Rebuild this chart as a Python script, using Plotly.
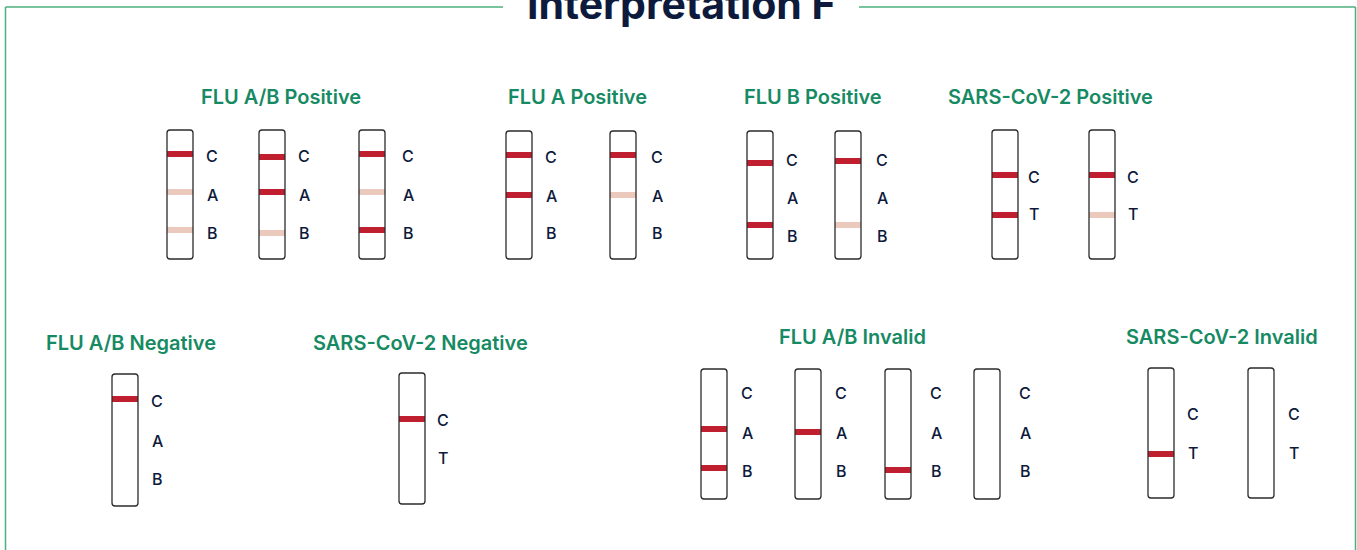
import plotly.graph_objects as go

# ---------------- data ----------------
main_title = "Interpretation F"
group_titles = [
    "FLU A/B Positive", "FLU A Positive", "FLU B Positive", "SARS-CoV-2 Positive",
    "FLU A/B Negative", "SARS-CoV-2 Negative", "FLU A/B Invalid", "SARS-CoV-2 Invalid",
]
flu_lines = ["C", "A", "B"]
sars_lines = ["C", "T"]
group_lines = [flu_lines, flu_lines, flu_lines, sars_lines,
               flu_lines, sars_lines, flu_lines, sars_lines]

# band state of each strip, one entry per test line (S = strong, F = faint, None = absent)
S, F = "strong", "faint"
flu_ab_positive = [[S, F, F], [S, S, F], [S, F, S]]
flu_a_positive = [[S, S, None], [S, F, None]]
flu_b_positive = [[S, None, S], [S, None, F]]
sars_positive = [[S, S], [S, F]]
flu_ab_negative = [[S, None, None]]
sars_negative = [[S, None]]
flu_ab_invalid = [[None, S, S], [None, S, None], [None, None, S], [None, None, None]]
sars_invalid = [[None, S], [None, None]]
group_results = [flu_ab_positive, flu_a_positive, flu_b_positive, sars_positive,
                 flu_ab_negative, sars_negative, flu_ab_invalid, sars_invalid]

# ---------------- layout (positions in page pixels) ----------------
W, H = 1357, 550
STRIP_W = 26
BAND_H = 6
RADIUS = 3
title_pos = [(281, 97), (577, 97), (813, 97), (1050, 97),
             (131, 343), (420, 343), (852, 337), (1222, 337)]
strip_left = [[167, 259, 359], [506, 610], [747, 835], [992, 1089],
              [112], [399], [701, 795, 885, 974], [1148, 1248]]
strip_span = [(130, 259), (131, 259), (131, 259), (130, 259),
              (374, 506), (373, 504), (369, 499), (368, 498)]
band_y = [
    [[154, 192, 230], [157, 192, 233], [154, 192, 230]],
    [[155, 195, 232], [155, 195, 232]],
    [[163, 198, 225], [161, 198, 225]],
    [[175, 215], [175, 215]],
    [[399, 441, 479]],
    [[419, 458]],
    [[390, 429, 468], [390, 432, 470], [390, 432, 470], [390, 432, 470]],
    [[414, 454], [414, 454]],
]
label_x = [[212, 304, 408], [551, 657], [792, 882], [1034, 1133],
           [157], [443], [747, 841, 936, 1025], [1193, 1294]]
label_y = [[156, 195, 233], [157, 196, 233], [160, 198, 236], [177, 214],
           [401, 441, 479], [420, 458], [393, 433, 471], [414, 453]]

band_colors = {"strong": "#c01f2f", "faint": "#ecc9bd"}
GREEN = "#168a63"
BORDER_GREEN = "#4daf7e"
NAVY = "#0d1a3c"
FONT = "Inter"

fig = go.Figure()
# invisible trace to anchor axes
fig.add_trace(go.Scatter(x=[0, W], y=[0, H], mode="markers",
                         marker=dict(opacity=0), hoverinfo="skip", showlegend=False))

shapes = []
annotations = []

# frame around the page with a gap for the title
frame_y = 7
frame_x0, frame_x1 = 5.5, 1355.5
gap0, gap1 = 503, 859
for xa, xb in [(frame_x0, gap0), (gap1, frame_x1)]:
    shapes.append(dict(type="line", x0=xa, x1=xb, y0=frame_y, y1=frame_y,
                       line=dict(color=BORDER_GREEN, width=1.5)))
for xv in (frame_x0, frame_x1):
    shapes.append(dict(type="line", x0=xv, x1=xv, y0=frame_y, y1=H + 5,
                       line=dict(color=BORDER_GREEN, width=1.5)))

annotations.append(dict(x=681, y=4, text=f"<b>{main_title}</b>", showarrow=False,
                        xanchor="center", yanchor="middle",
                        font=dict(family=FONT, size=41, color=NAVY)))


def strip_path(x0, y0, x1, y1, r):
    return (f"M {x0 + r},{y0} L {x1 - r},{y0} Q {x1},{y0} {x1},{y0 + r} "
            f"L {x1},{y1 - r} Q {x1},{y1} {x1 - r},{y1} L {x0 + r},{y1} "
            f"Q {x0},{y1} {x0},{y1 - r} L {x0},{y0 + r} Q {x0},{y0} {x0 + r},{y0} Z")


for g, title in enumerate(group_titles):
    tx, ty = title_pos[g]
    annotations.append(dict(x=tx, y=ty, text=title, showarrow=False,
                            xanchor="center", yanchor="middle",
                            font=dict(family=FONT, size=20, color=GREEN, weight=600)))
    top, bottom = strip_span[g]
    for s, states in enumerate(group_results[g]):
        x0 = strip_left[g][s]
        x1 = x0 + STRIP_W
        # bands
        for li, state in enumerate(states):
            if state is None:
                continue
            yc = band_y[g][s][li]
            shapes.append(dict(type="rect", x0=x0, x1=x1, y0=yc - BAND_H / 2, y1=yc + BAND_H / 2,
                               fillcolor=band_colors[state], line=dict(width=0)))
        # outline
        shapes.append(dict(type="path", path=strip_path(x0, top, x1, bottom, RADIUS),
                           line=dict(color="#2b2b2b", width=1.3)))
        # labels
        for li, lab in enumerate(group_lines[g]):
            annotations.append(dict(x=label_x[g][s], y=label_y[g][li], text=lab,
                                    showarrow=False, xanchor="center", yanchor="middle",
                                    font=dict(family=FONT, size=16, color=NAVY, weight=500)))

fig.update_layout(
    width=W, height=H,
    margin=dict(l=0, r=0, t=0, b=0),
    paper_bgcolor="white", plot_bgcolor="white",
    xaxis=dict(range=[0, W], visible=False, fixedrange=True),
    yaxis=dict(range=[H, 0], visible=False, fixedrange=True),
    shapes=shapes, annotations=annotations, showlegend=False,
)

fig.write_html("out.html", config={"displayModeBar": False},
               post_script="document.body.style.margin='0';document.body.style.overflow='hidden';")
